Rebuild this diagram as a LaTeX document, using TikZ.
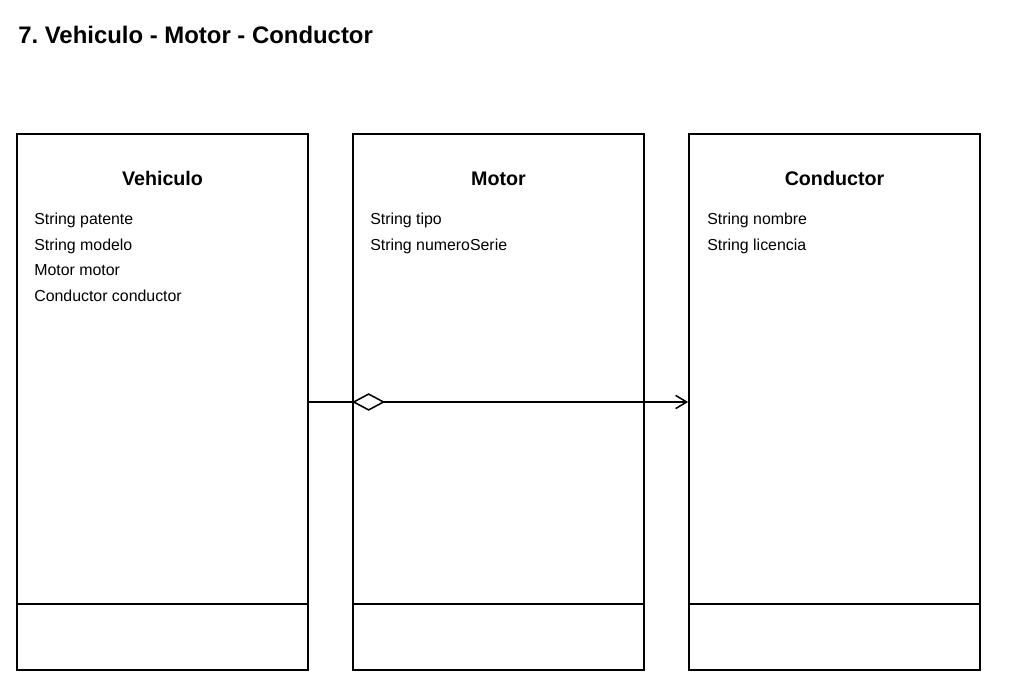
\documentclass[tikz,border=0pt]{standalone}
\usepackage{fontspec}
\setmainfont{Liberation Sans}
\frenchspacing
\usetikzlibrary{
    arrows.meta,
    positioning
}
\tikzset{
    % Boxes
    class box/.style={draw,line width=1.2pt,minimum width=7.275cm,minimum height=13.4cm,inner sep=0pt},
    divider/.style={line width=1.2pt},
    %
    % Texts
    title/.style={anchor=base west,font=\fontsize{17}{20}\selectfont\bfseries,inner sep=0pt},
    class name/.style={anchor=base,font=\fontsize{14}{17}\selectfont\bfseries,inner sep=0pt},
    attr/.style={anchor=base west,font=\fontsize{11.3}{14}\selectfont,inner sep=0pt},
    %
    % Arrows
    agg tip/.tip={Diamond[open,length=0.825cm,width=0.44cm,line width=1.1pt]},
    open tip/.tip={Straight Barb[length=0.275cm,width=0.33cm,line width=1.1pt]},
    conn/.style={line width=1.1pt},
    agg/.style={conn,{agg tip}-{open tip}}
}

\begin{document}
\begin{tikzpicture}[x=0.025cm,y=-0.025cm]
    \useasboundingbox (0,0) rectangle (1024,681);
    \node[title] (ttl) at (18,44) {7. Vehiculo - Motor - Conductor};

    % Classes
    \node[class box] (veh) at (162.5,402) {};
    \node[class box] (mot) at (498.5,402) {};
    \node[class box] (con) at (834.5,402) {};
    \foreach \cls in {veh,mot,con}{
        \draw[divider] ([yshift=1.675cm]\cls.south west) -- ([yshift=1.675cm]\cls.south east);
    }

    \node[class name] (veh name) at (162.5,186) {Vehiculo};
    \node[class name] (mot name) at (498.5,186) {Motor};
    \node[class name] (con name) at (834.5,186) {Conductor};

    \foreach \attrib [count=\i] in {String patente,String modelo,Motor motor,Conductor conductor}{
        \node[attr] (veh attr\i) at (34,{225+25.5*(\i-1)}) {\attrib};
    }
    \foreach \attrib [count=\i] in {String tipo,String numeroSerie}{
        \node[attr] (mot attr\i) at (370,{225+25.5*(\i-1)}) {\attrib};
    }
    \foreach \attrib [count=\i] in {String nombre,String licencia}{
        \node[attr] (con attr\i) at (707,{225+25.5*(\i-1)}) {\attrib};
    }

    % Relations
    \draw[conn] (veh.east) -- (mot.west);
    \draw[agg] (mot.west) -- (con.west);
\end{tikzpicture}
\end{document}
